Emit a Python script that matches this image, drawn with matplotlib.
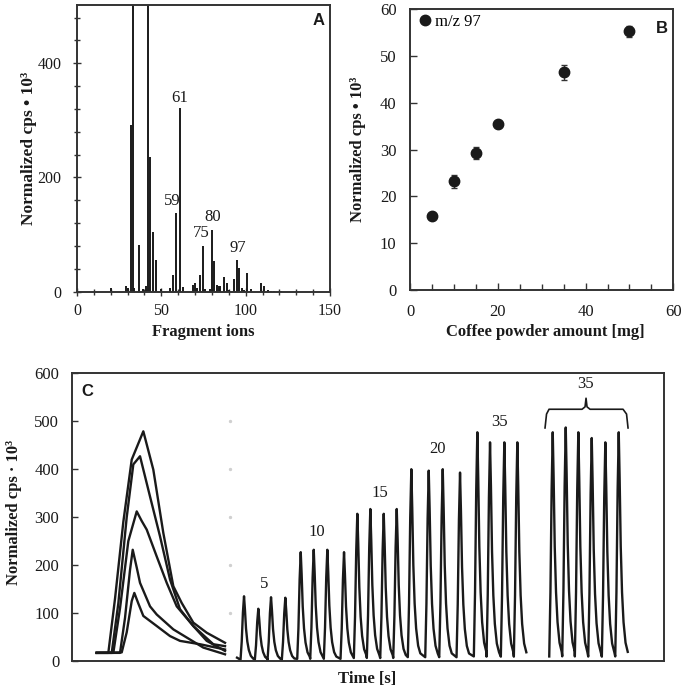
import numpy as np
import matplotlib.pyplot as plt
from matplotlib.lines import Line2D

plt.rcParams["font.family"] = ["Liberation Serif", "DejaVu Serif"]

INK = "#1a1a1a"

# --- panel A: fragment spectrum (m/z, normalized cps * 1e3) ---
mz = [20, 29, 30, 32, 33, 34, 37, 39, 41, 42, 43, 45, 47, 50, 55, 57, 59, 61, 63,
      69, 70, 71, 73, 75, 76, 79, 80, 81, 83, 84, 85, 87, 89, 90, 93, 95, 96, 98,
      99, 101, 103, 109, 111, 113, 115, 117, 121]
intensity = [6, 10, 6, 292, 1000, 6, 82, 5, 10, 1000, 236, 104, 55, 4, 6, 30, 137, 321, 8,
             12, 15, 6, 29, 80, 5, 5, 108, 53, 12, 10, 10, 26, 15, 3, 22, 56, 42, 6,
             3, 32, 4, 15, 10, 3, 2, 2, 2]
a_labels = ["61", "59", "80", "75", "97"]
a_label_x = [61, 56.5, 80.5, 73.5, 95.5]
a_label_y = [339, 158, 131, 103, 76]

# --- panel B: m/z 97 vs coffee powder amount ---
powder_mg = [5, 10, 15, 20, 35, 50]
cps_97 = [15.8, 23.2, 29.3, 35.5, 46.5, 55.3]
cps_97_err = [0.5, 1.3, 1.2, 0.7, 1.7, 1.2]

# --- panel C: overlaid single peaks (x in picture units) ---
ov_x = [
    [96.7, 121.7, 126.7, 131.7, 134.3, 138.3, 143.3, 156.7, 170.0, 180.0, 200.0, 225.0],
    [96.7, 120.0, 125.0, 130.0, 132.7, 136.7, 140.0, 150.0, 156.7, 173.3, 186.7, 203.3, 225.0],
    [96.7, 113.3, 120.0, 128.3, 136.7, 141.7, 146.7, 156.7, 166.7, 176.7, 193.3, 206.7, 225.0],
    [96.7, 111.7, 118.3, 126.7, 133.3, 140.0, 150.0, 160.0, 170.0, 180.0, 193.3, 213.3, 225.0],
    [96.7, 108.3, 115.0, 123.3, 131.7, 143.3, 153.3, 163.3, 173.3, 181.7, 193.3, 206.7, 225.0],
]
ov_y = [
    [17, 18, 60, 125, 142, 120, 94, 73, 52, 42, 35, 24],
    [17, 17, 90, 190, 232, 195, 163, 114, 97, 66, 49, 28, 14],
    [17, 17, 110, 250, 312, 292, 274, 218, 163, 114, 73, 42, 21],
    [17, 17, 120, 300, 410, 427, 343, 260, 170, 108, 73, 35, 31],
    [17, 17, 130, 290, 420, 479, 399, 267, 156, 121, 80, 59, 38],
]

# --- panel C: peak train (peak position, peak height) ---
train1_pos = [244, 258.3, 271, 285.3, 300.7, 313.7, 327.3, 344, 357.3, 370.3, 383.7, 396.7,
              411.3, 428.7, 442.7, 460, 477.3, 490, 504.3, 517.3]
train1_h = [135, 109, 133, 132, 227, 232, 232, 227, 307, 317, 307, 317,
            400, 397, 400, 393, 477, 456, 456, 456]
train2_pos = [552.7, 565.7, 578.3, 591.7, 605.3, 618.7]
train2_h = [477, 487, 477, 465, 456, 477]
shape_dx = [-3.5, -2.3, -1.1, 0, 0.9, 2.0, 3.3, 4.8, 6.8, 9.0]
shape_frac = [0.02, 0.3, 0.75, 1.0, 0.8, 0.5, 0.3, 0.17, 0.08, 0.04]

c_labels = ["5", "10", "15", "20", "35", "35"]
c_label_x = [264.3, 316.7, 380, 437, 499.3, 585]
c_label_y = [160, 270, 351, 442, 498, 578]
brace_x = [545, 546.5, 549, 582, 585, 586, 587, 590, 623, 626.5, 628]
brace_y = [486, 515, 525, 525, 530, 548, 530, 525, 525, 515, 486]
faint_y = [100, 200, 300, 400, 500]


def build_train(pos, heights):
    xs, ys = [], []
    for p, h in zip(pos, heights):
        xs += [p + d for d in shape_dx]
        ys += [h * f for f in shape_frac]
    return xs, ys


def place_labels(ax, xl, yl):
    ax.xaxis.label.set_verticalalignment("center")
    ax.yaxis.label.set_verticalalignment("center")
    ax.xaxis.set_label_coords(*xl)
    ax.yaxis.set_label_coords(*yl)


fig = plt.figure(figsize=(6.85, 6.90), dpi=100)

# ---------------- A ----------------
axA = fig.add_axes([0.1124, 0.5772, 0.3693, 0.4156])
axA.vlines(mz, 0, intensity, color=INK, lw=1.4)
axA.set_xlim(0, 150)
axA.set_ylim(0, 502)
axA.set_xticks([0, 50, 100, 150])
axA.set_xticks(np.arange(0, 151, 10), minor=True)
axA.set_yticks([0, 200, 400])
axA.set_yticks(np.arange(0, 501, 40), minor=True)
axA.tick_params(direction="inout", length=6, width=1, labelsize=11.5, color="#333")
axA.tick_params(axis="x", pad=5)
axA.tick_params(axis="y", pad=8)
axA.tick_params(which="minor", direction="inout", length=4, width=1, color="#333")
for t, x, y in zip(a_labels, a_label_x, a_label_y):
    axA.text(x, y, t, ha="center", va="center", fontsize=12, color=INK)
axA.text(0.955, 0.945, "A", transform=axA.transAxes, ha="center", va="center",
         fontsize=12, fontweight="bold", family="Liberation Sans", color=INK)
axA.set_xlabel("Fragment ions", fontsize=12, fontweight="bold", color=INK)
axA.set_ylabel("Normalized cps • 10³", fontsize=12.5, fontweight="bold", color=INK)
place_labels(axA, (0.5, -0.14), (-0.19, 0.5))

# ---------------- B ----------------
axB = fig.add_axes([0.599, 0.5797, 0.3839, 0.4068])
axB.errorbar(powder_mg, cps_97, yerr=cps_97_err, fmt="o", color=INK, ms=7.5,
             ecolor="#333", elinewidth=1, capsize=2.5, capthick=1)
axB.set_xlim(0, 60)
axB.set_ylim(0, 60)
axB.set_xticks([0, 20, 40, 60])
axB.set_xticks(np.arange(0, 61, 5), minor=True)
axB.set_yticks(np.arange(0, 61, 10))
axB.tick_params(direction="in", length=5, width=1, labelsize=12, color="#333", pad=10)
axB.tick_params(which="minor", direction="in", length=4, width=1, color="#333")
handle = Line2D([], [], marker="o", ls="", color=INK, ms=7.5)
axB.legend([handle], ["m/z 97"], loc="upper left", frameon=False, fontsize=12,
           handletextpad=0.0, borderaxespad=0.1, borderpad=0.2, handlelength=1.2)
axB.text(0.955, 0.93, "B", transform=axB.transAxes, ha="center", va="center",
         fontsize=12, fontweight="bold", family="Liberation Sans", color=INK)
axB.set_xlabel("Coffee powder amount [mg]", fontsize=12, fontweight="bold", color=INK)
axB.set_ylabel("Normalized cps • 10³", fontsize=12, fontweight="bold", color=INK)
place_labels(axB, (0.512, -0.15), (-0.2, 0.5))

# ---------------- C ----------------
axC = fig.add_axes([0.1047, 0.042, 0.8647, 0.417])
for xs, ys in zip(ov_x, ov_y):
    axC.plot(xs, ys, color=INK, lw=1.7)
x1, y1 = build_train(train1_pos, train1_h)
axC.plot([237] + x1, [7] + y1, color=INK, lw=1.7)
x2, y2 = build_train(train2_pos, train2_h)
axC.plot(x2, y2, color=INK, lw=1.7)
axC.plot(brace_x, brace_y, color=INK, lw=1.2)
axC.scatter([230] * len(faint_y), faint_y, s=2, color="#d0d0d0", zorder=0)
for t, x, y in zip(c_labels, c_label_x, c_label_y):
    axC.text(x, y, t, ha="center", va="center", fontsize=12, color=INK)
axC.set_xlim(71.7, 664)
axC.set_ylim(0, 600)
axC.set_xticks([])
axC.set_yticks(np.arange(0, 601, 100))
axC.tick_params(direction="in", length=4, width=1, labelsize=12, color="#333", pad=9)
axC.text(0.027, 0.935, "C", transform=axC.transAxes, ha="center", va="center",
         fontsize=12, fontweight="bold", family="Liberation Sans", color=INK)
axC.set_xlabel("Time [s]", fontsize=12, fontweight="bold", color=INK)
axC.set_ylabel("Normalized cps · 10³", fontsize=12, fontweight="bold", color=INK)
place_labels(axC, (0.4986, -0.063), (-0.098, 0.515))

for ax in (axA, axB, axC):
    for s in ax.spines.values():
        s.set_linewidth(1.4)
        s.set_color("#333")
    for lab in ax.get_xticklabels() + ax.get_yticklabels():
        lab.set_color(INK)

fig.savefig("out.png", dpi=100)
